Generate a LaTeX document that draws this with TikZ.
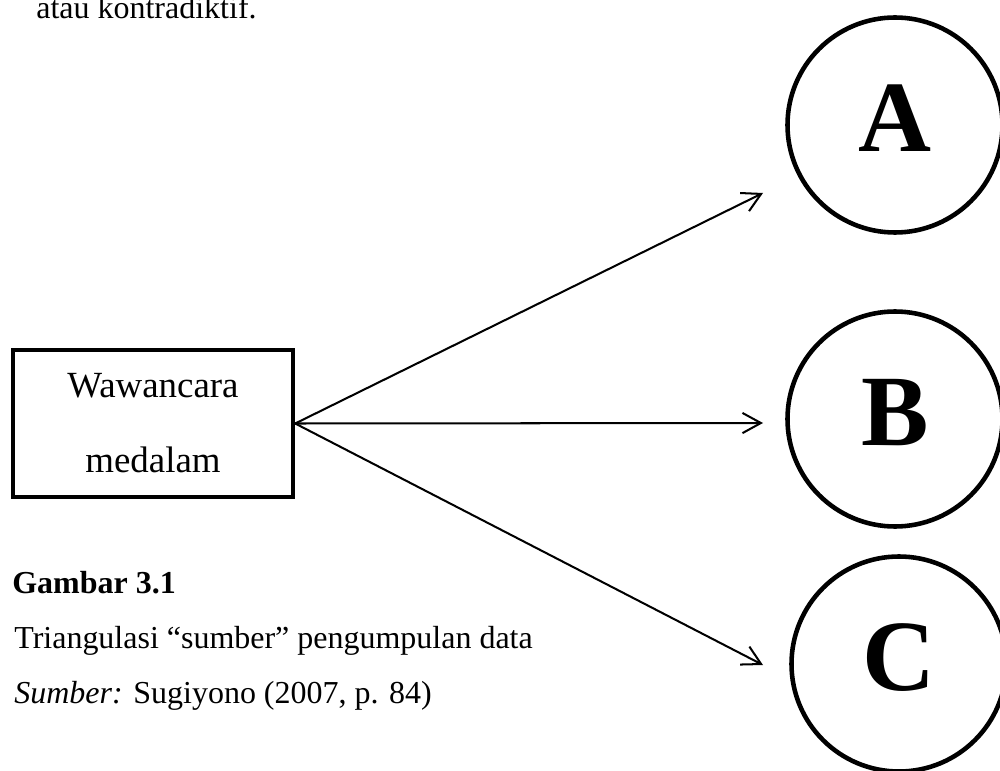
\documentclass[tikz,border=0pt]{standalone}
\usepackage{fontspec}
\setmainfont{Liberation Serif}
\usetikzlibrary{arrows.meta}

\tikzset{
  source/.style={draw, circle, line width=2.6pt, minimum size=4.3cm, inner sep=0pt,
    text depth=0.28cm, font=\fontsize{57.5}{60}\selectfont\bfseries},
  method/.style={draw, rectangle, line width=2.5pt, minimum width=5.6cm,
    minimum height=2.94cm, align=center, font=\fontsize{21}{42.7}\selectfont},
  plain/.style={inner sep=0pt, anchor=base west, font=\fontsize{18.2}{20}\selectfont},
  link/.style={-{Straight Barb[length=10.5pt,width=11.5pt]}, line width=1.15pt}
}

\begin{document}
\begin{tikzpicture}

\useasboundingbox (0,0) rectangle (20,-15.42);

\node[plain] (prev) at (0.72,-0.38) {atau kontradiktif.};

\node[method] (wawancara) at (3.06,-8.47) {Wawancara\\medalam};

\node[source] (A) at (17.9,-2.5) {A};
\node[source] (B) at (17.9,-8.38) {B};
\node[source] (C) at (17.98,-13.28) {C};

\coordinate (tipA) at (15.26,-3.86);
\coordinate (tipB) at (15.26,-8.46);
\coordinate (tipC) at (15.26,-13.30);

\draw[link] (wawancara.east) -- (tipA);
\draw[link] (wawancara.east) -- (tipB);
\draw[link] (wawancara.east) -- (tipC);

\node[plain] (gambar) at (0.24,-11.86) {\textbf{Gambar 3.1}};
\node[plain] (judul) at (0.28,-12.96) {Triangulasi “sumber” pengumpulan data};
\node[plain] (sumber) at (0.28,-14.06) {\textit{Sumber:} Sugiyono (2007, p. 84)};

\end{tikzpicture}
\end{document}
